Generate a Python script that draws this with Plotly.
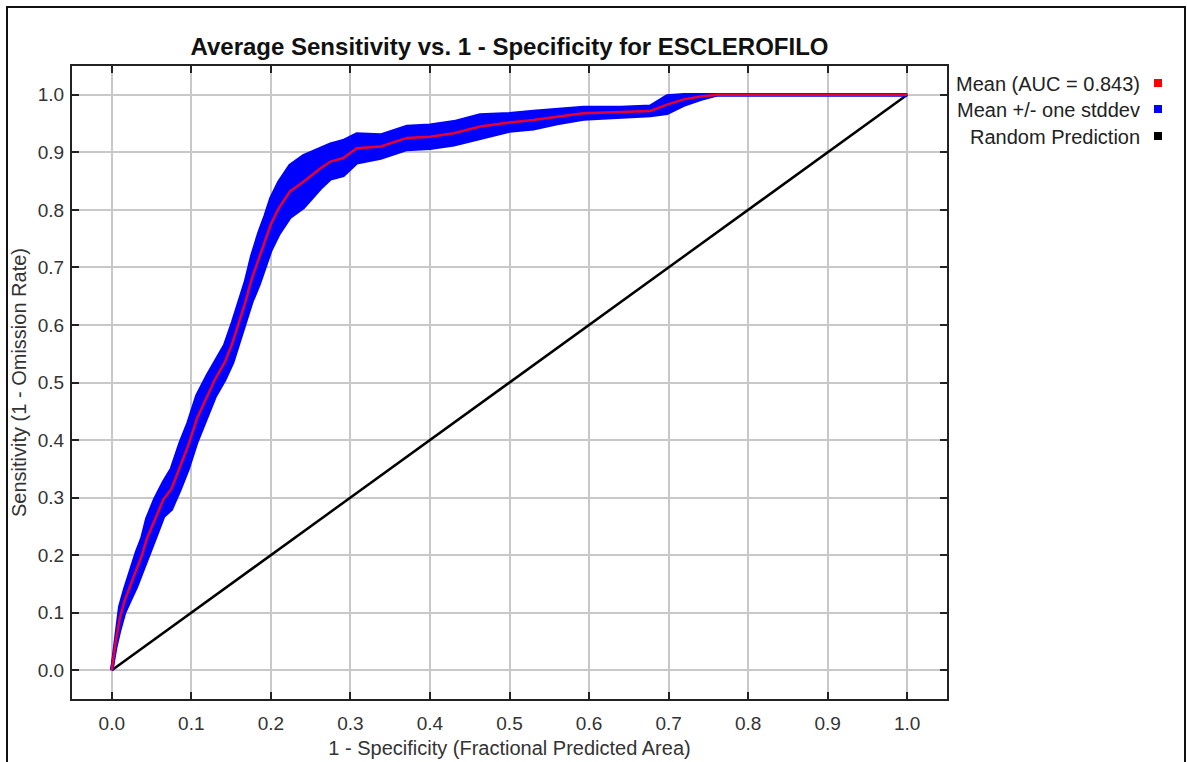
import plotly.graph_objects as go

# ---- data ----
fpr = [0.000, 0.005, 0.010, 0.016, 0.023, 0.031, 0.038, 0.044, 0.054, 0.065,
       0.075, 0.086, 0.096, 0.107, 0.120, 0.130, 0.142, 0.152, 0.160, 0.168,
       0.176, 0.185, 0.193, 0.200, 0.210, 0.224, 0.241, 0.262, 0.275, 0.291,
       0.308, 0.338, 0.371, 0.400, 0.430, 0.463, 0.500, 0.530, 0.560, 0.593,
       0.640, 0.677, 0.698, 0.719, 0.740, 0.761, 1.000]
mean_tpr = [0.000, 0.050, 0.090, 0.120, 0.146, 0.175, 0.200, 0.228, 0.262, 0.297,
            0.315, 0.355, 0.390, 0.437, 0.477, 0.506, 0.535, 0.570, 0.605, 0.640,
            0.680, 0.715, 0.745, 0.775, 0.803, 0.832, 0.849, 0.872, 0.884, 0.890,
            0.907, 0.910, 0.925, 0.927, 0.933, 0.945, 0.952, 0.956, 0.962, 0.968,
            0.970, 0.972, 0.983, 0.992, 0.997, 1.000, 1.000]
sd_tpr = [0.000, 0.010, 0.020, 0.020, 0.025, 0.030, 0.030, 0.035, 0.035, 0.030,
          0.035, 0.040, 0.040, 0.040, 0.035, 0.030, 0.030, 0.035, 0.035, 0.035,
          0.040, 0.045, 0.045, 0.045, 0.045, 0.045, 0.045, 0.035, 0.030, 0.030,
          0.025, 0.020, 0.020, 0.020, 0.020, 0.020, 0.015, 0.015, 0.012, 0.010,
          0.008, 0.008, 0.015, 0.010, 0.005, 0.000, 0.000]
random_x = [0.0, 1.0]
random_y = [0.0, 1.0]
tick_vals = [0.0, 0.1, 0.2, 0.3, 0.4, 0.5, 0.6, 0.7, 0.8, 0.9, 1.0]
tick_text = ["0.0", "0.1", "0.2", "0.3", "0.4", "0.5", "0.6", "0.7", "0.8", "0.9", "1.0"]
auc = 0.843
legend_labels = [f"Mean (AUC = {auc:.3f})", "Mean +/- one stddev", "Random Prediction"]
legend_colors = ["#ff0000", "#0000ff", "#000000"]

upper = [min(m + s, 1.0) for m, s in zip(mean_tpr, sd_tpr)]
lower = [m - s for m, s in zip(mean_tpr, sd_tpr)]

W, H = 1187, 762
ML, MR, MT, MB = 72, 240, 66, 63
PW, PH = W - ML - MR, H - MT - MB


def px(x):
    return (x - ML) / PW


def py(y):
    return (H - MB - y) / PH


FONT = "Liberation Sans, Arial, sans-serif"

fig = go.Figure()
fig.add_trace(go.Scatter(x=random_x, y=random_y, mode="lines",
                         line=dict(color="#000000", width=2.5), showlegend=False,
                         hoverinfo="skip"))
fig.add_trace(go.Scatter(x=fpr, y=lower, mode="lines",
                         line=dict(color="#0000ff", width=3.5), showlegend=False,
                         hoverinfo="skip"))
fig.add_trace(go.Scatter(x=fpr, y=upper, mode="lines", fill="tonexty",
                         fillcolor="#0000ff",
                         line=dict(color="#0000ff", width=3.5), showlegend=False,
                         hoverinfo="skip"))
fig.add_trace(go.Scatter(x=fpr, y=mean_tpr, mode="lines",
                         line=dict(color="rgb(235,0,45)", width=2.5), showlegend=False))

axis_common = dict(
    tickmode="array", tickvals=tick_vals, ticktext=tick_text,
    showgrid=True, gridcolor="#c8c8c8", gridwidth=1.5,
    zeroline=False, showline=True, linecolor="#222222", linewidth=2,
    mirror="ticks", ticks="inside", ticklen=7, tickwidth=1.5, tickcolor="#222222",
    tickfont=dict(family=FONT, size=19, color="#333333"),
    automargin=False,
)
fig.update_xaxes(range=[-0.05, 1.05], ticklabelstandoff=6,
                 title=dict(text="1 - Specificity (Fractional Predicted Area)",
                            font=dict(family=FONT, size=20, color="#333333"),
                            standoff=8),
                 **axis_common)
fig.update_yaxes(range=[-0.05, 1.05], ticklabelstandoff=2,
                 title=dict(text="Sensitivity (1 - Omission Rate)",
                            font=dict(family=FONT, size=20, color="#333333"),
                            standoff=6),
                 **axis_common)

annotations = []
shapes = []
row_y = [83, 109, 136]
for lab, col, yy in zip(legend_labels, legend_colors, row_y):
    annotations.append(dict(x=px(1142), y=py(yy + 1), xref="paper", yref="paper",
                            text=lab, showarrow=False, xanchor="right", yanchor="middle",
                            font=dict(family=FONT, size=20, color="#222222")))
    shapes.append(dict(type="rect", xref="paper", yref="paper",
                       x0=px(1154), x1=px(1162), y0=py(yy + 4), y1=py(yy - 4),
                       fillcolor=col, line=dict(width=0)))
# outer frame
shapes.append(dict(type="rect", xref="paper", yref="paper",
                   x0=px(7), x1=px(1185), y0=py(800), y1=py(7),
                   line=dict(color="#111111", width=2), fillcolor="rgba(0,0,0,0)",
                   layer="below"))

fig.update_layout(
    width=W, height=H,
    margin=dict(l=ML, r=MR, t=MT, b=MB, autoexpand=False),
    paper_bgcolor="#ffffff", plot_bgcolor="#ffffff",
    title=dict(text="<b>Average Sensitivity vs. 1 - Specificity for ESCLEROFILO</b>",
               xref="paper", x=px(509.5), xanchor="center",
               yref="container", y=1 - 47 / H, yanchor="middle",
               font=dict(family=FONT, size=24, color="#111111")),
    annotations=annotations, shapes=shapes, showlegend=False,
)

fig.write_html("out.html", config={"displayModeBar": False},
               post_script="document.body.style.margin='0px';")
